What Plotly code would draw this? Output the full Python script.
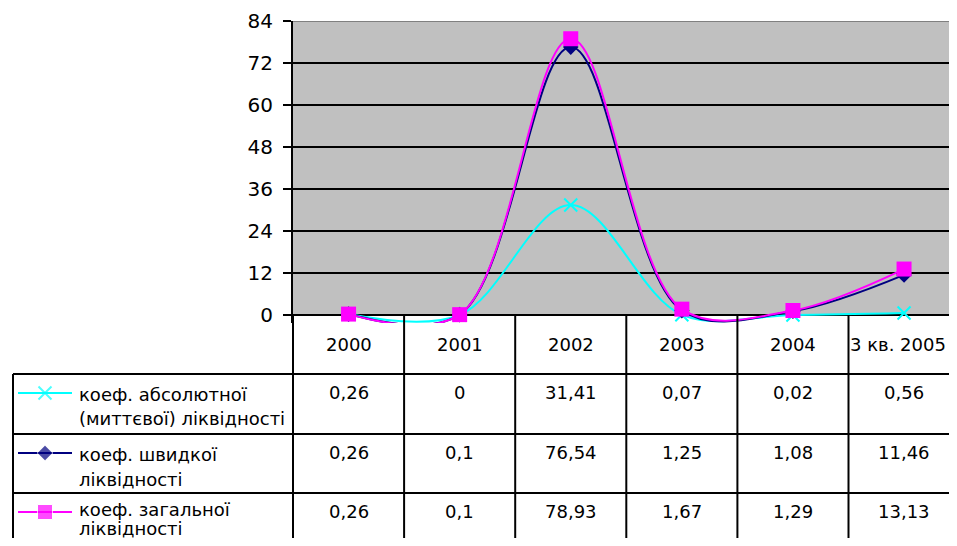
import plotly.graph_objects as go

# ---------------- data ----------------
categories = ["2000", "2001", "2002", "2003", "2004", "3 кв. 2005"]
series_names = [
    "коеф. абсолютної<br>(миттєвої) ліквідності",
    "коеф. швидкої<br>ліквідності",
    "коеф. загальної<br>ліквідності",
]
absolute_liq = [0.26, 0, 31.41, 0.07, 0.02, 0.56]
quick_liq = [0.26, 0.1, 76.54, 1.25, 1.08, 11.46]
total_liq = [0.26, 0.1, 78.93, 1.67, 1.29, 13.13]
y_tick_values = [0, 12, 24, 36, 48, 60, 72, 84]

series_values = [absolute_liq, quick_liq, total_liq]

# ---------------- styles / layout constants ----------------
colors = ["#00FFFF", "#000080", "#FF00FF"]
symbols = ["x-thin", "diamond", "square"]
msizes = [13, 12, 15]
FONT = "DejaVu Sans"
TXT = 18

# page: the browser adds an 8px body margin, so the figure is sized to fit
OFF = 8
WIN_W, WIN_H = 957, 546
FIG_W, FIG_H = WIN_W - 2 * OFF, WIN_H - 2 * OFF

# positions below are in window pixels of the reference
PLOT_L, PLOT_T, ZERO_Y = 293, 21, 315
Y_MAX = 84
PX_PER_Y = (ZERO_Y - PLOT_T) / Y_MAX
BELOW_PX = 8
COL_W = 111.1
HEADER_TEXT_Y = 344
ROW_TOPS = [374, 434, 493]
VALUE_DY = 18
LABEL_LINES_DY = [[20, 45], [20, 45], [16, 35]]
KEY_DY = 19
LEGEND_LEFT = 13
KEY_X0, KEY_XM, KEY_X1 = 18, 45, 72
LABEL_X = 77


def px(xp):
    return (xp - OFF) / FIG_W


def py(yp):
    return (FIG_H - (yp - OFF)) / FIG_H


x_range = [-0.5, -0.5 + (OFF + FIG_W - PLOT_L) / COL_W]
y_min = -BELOW_PX / PX_PER_Y
y_dom = [py(ZERO_Y + BELOW_PX), py(PLOT_T)]

fig = go.Figure()

# main series
for vals, name, c, s, ms in zip(series_values, series_names, colors, symbols, msizes):
    marker = dict(symbol=s, size=ms, color=c)
    if s == "x-thin":
        marker["line"] = dict(color=c, width=2)
    fig.add_trace(go.Scatter(
        x=list(range(len(categories))), y=vals, mode="lines+markers",
        line=dict(color=c, width=2, shape="spline", smoothing=1),
        marker=marker, name=name.replace("<br>", " "), showlegend=False,
        hoverinfo="skip", xaxis="x", yaxis="y",
    ))

# legend keys inside the table (overlay axis in window-pixel space)
for r, (c, s, ms) in enumerate(zip(colors, symbols, msizes)):
    yc = ROW_TOPS[r] + KEY_DY
    marker = dict(symbol=s, size=[0, ms, 0], color=c)
    if s == "x-thin":
        marker["line"] = dict(color=c, width=2)
    fig.add_trace(go.Scatter(
        x=[KEY_X0, KEY_XM, KEY_X1], y=[yc, yc, yc], mode="lines+markers",
        line=dict(color=c, width=2), marker=marker, showlegend=False,
        hoverinfo="skip", xaxis="x2", yaxis="y2", cliponaxis=False,
    ))

shapes = []
shapes.append(dict(type="rect", xref="x domain", yref="y", x0=0, x1=1, y0=0, y1=Y_MAX,
                   fillcolor="#C0C0C0", line=dict(width=0), layer="below"))
shapes.append(dict(type="line", xref="x domain", yref="y", x0=0, x1=1, y0=Y_MAX, y1=Y_MAX,
                   line=dict(color="#808080", width=2), layer="above"))
for yt in ROW_TOPS:
    shapes.append(dict(type="line", xref="paper", yref="paper", x0=px(LEGEND_LEFT), x1=1.02,
                       y0=py(yt), y1=py(yt), line=dict(color="black", width=2)))
for k in range(len(categories) + 1):
    xp = PLOT_L + k * COL_W
    shapes.append(dict(type="line", xref="paper", yref="paper", x0=px(xp), x1=px(xp),
                       y0=py(ZERO_Y), y1=py(WIN_H + 20), line=dict(color="black", width=2)))
shapes.append(dict(type="line", xref="paper", yref="paper", x0=px(LEGEND_LEFT), x1=px(LEGEND_LEFT),
                   y0=py(ROW_TOPS[0]), y1=py(WIN_H + 20), line=dict(color="black", width=2)))

annotations = []
for i, cat in enumerate(categories):
    last = i == len(categories) - 1
    annotations.append(dict(x=0.999 if last else i, y=py(HEADER_TEXT_Y),
                            xref="paper" if last else "x", yref="paper", text=cat,
                            showarrow=False, xanchor="right" if last else "center",
                            yanchor="middle",
                            font=dict(family=FONT, size=TXT, color="black")))


def fmt(v):
    return f"{v:g}".replace(".", ",")


for r, vals in enumerate(series_values):
    for i, v in enumerate(vals):
        annotations.append(dict(x=i, y=py(ROW_TOPS[r] + VALUE_DY), xref="x", yref="paper",
                                text=fmt(v), showarrow=False, xanchor="center", yanchor="middle",
                                font=dict(family=FONT, size=TXT, color="black")))
    for j, line in enumerate(series_names[r].split("<br>")):
        annotations.append(dict(x=px(LABEL_X), y=py(ROW_TOPS[r] + LABEL_LINES_DY[r][j]),
                                xref="paper", yref="paper", text=line, showarrow=False,
                                xanchor="left", yanchor="middle",
                                font=dict(family=FONT, size=TXT, color="black")))

fig.update_layout(
    width=FIG_W, height=FIG_H,
    margin=dict(l=0, r=0, t=0, b=0, pad=0, autoexpand=False),
    paper_bgcolor="white", plot_bgcolor="rgba(0,0,0,0)",
    font=dict(family=FONT, color="black"),
    showlegend=False,
    xaxis=dict(domain=[px(PLOT_L), 1], range=x_range, visible=False, anchor="y",
               automargin=False),
    yaxis=dict(domain=y_dom, range=[y_min, Y_MAX], anchor="x", automargin=False,
               tickmode="array", tickvals=y_tick_values,
               ticks="outside", ticklen=8, tickwidth=2, tickcolor="black",
               ticklabelstandoff=6,
               showline=True, linecolor="black", linewidth=2,
               showgrid=True, gridcolor="black", gridwidth=2,
               zeroline=True, zerolinecolor="black", zerolinewidth=2,
               tickfont=dict(family=FONT, size=20, color="black")),
    xaxis2=dict(domain=[0, 1], range=[OFF, OFF + FIG_W], visible=False, anchor="y2",
                automargin=False),
    yaxis2=dict(domain=[0, 1], range=[OFF + FIG_H, OFF], visible=False, anchor="x2",
                automargin=False),
    shapes=shapes,
    annotations=annotations,
)

fig.write_html("out.html")
